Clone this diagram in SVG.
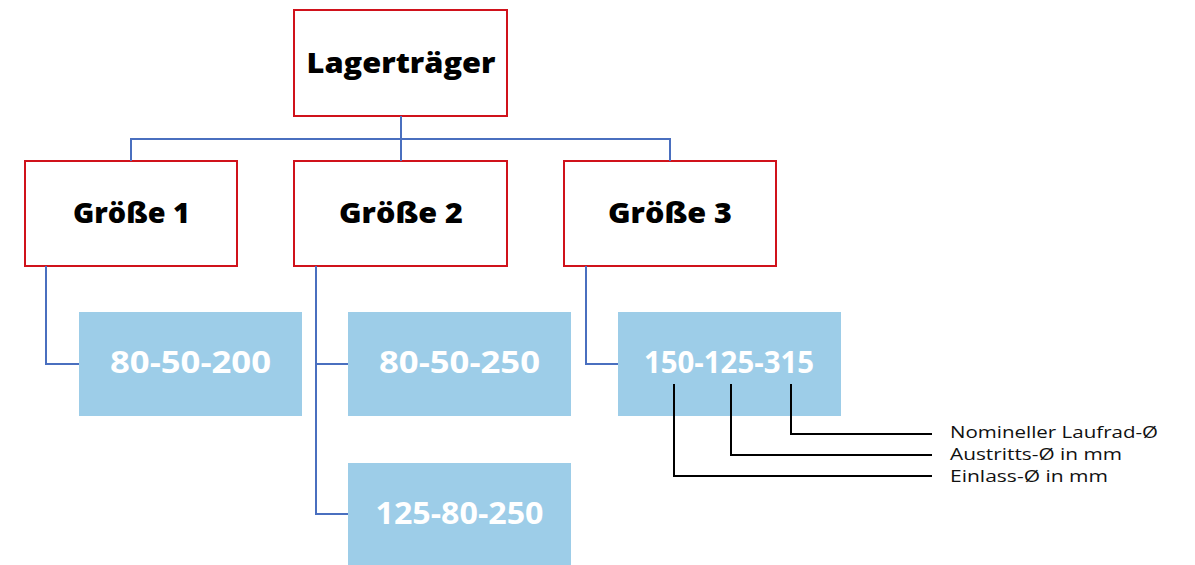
<svg xmlns="http://www.w3.org/2000/svg" width="1195" height="565" viewBox="0 0 1195 565">
<style>
.hdr{fill:#fff;stroke:#D0121B;stroke-width:2}
.hdr-t{font-family:"Open Sans","Liberation Sans",sans-serif;font-weight:800;font-size:28px;fill:#000;text-anchor:middle}
.num{fill:#9DCDE8}
.num-t{font-family:"Open Sans","Liberation Sans",sans-serif;font-weight:bold;font-size:30px;fill:#fff;text-anchor:middle}
.blue{fill:none;stroke:#4A6FBF;stroke-width:2}
.blk{fill:none;stroke:#000;stroke-width:2}
.lbl{font-family:"Open Sans","Liberation Sans",sans-serif;font-size:17px;fill:#111}
</style>
<rect width="1195" height="565" fill="#fff"/>
<g id="lagertraeger">
<rect class="hdr" x="294" y="10" width="213" height="106"/>
<text class="hdr-t" x="401" y="73" textLength="189" lengthAdjust="spacingAndGlyphs">Lagerträger</text>
</g>
<g id="groesse1">
<rect class="hdr" x="25" y="161" width="212" height="105"/>
<text class="hdr-t" x="131.5" y="223" textLength="117" lengthAdjust="spacingAndGlyphs">Größe 1</text>
</g>
<g id="groesse2">
<rect class="hdr" x="294" y="161" width="213" height="105"/>
<text class="hdr-t" x="401" y="223" textLength="124" lengthAdjust="spacingAndGlyphs">Größe 2</text>
</g>
<g id="groesse3">
<rect class="hdr" x="564" y="161" width="212" height="105"/>
<text class="hdr-t" x="670" y="223" textLength="124" lengthAdjust="spacingAndGlyphs">Größe 3</text>
</g>
<g id="n80-50-200">
<rect class="num" x="79" y="312" width="223" height="104"/>
<text class="num-t" x="190.5" y="373" textLength="161" lengthAdjust="spacingAndGlyphs">80-50-200</text>
</g>
<g id="n80-50-250">
<rect class="num" x="348" y="312" width="223" height="104"/>
<text class="num-t" x="459.5" y="373" textLength="161" lengthAdjust="spacingAndGlyphs">80-50-250</text>
</g>
<g id="n125-80-250">
<rect class="num" x="348" y="463" width="223" height="102"/>
<text class="num-t" x="459.5" y="524" textLength="168" lengthAdjust="spacingAndGlyphs">125-80-250</text>
</g>
<g id="n150-125-315">
<rect class="num" x="618" y="312" width="223" height="104"/>
<text class="num-t" x="729" y="373" textLength="170" lengthAdjust="spacingAndGlyphs">150-125-315</text>
</g>
<g id="labels">
<text class="lbl" x="950" y="438" textLength="208" lengthAdjust="spacingAndGlyphs">Nomineller Laufrad-Ø</text>
<text class="lbl" x="950" y="460" textLength="172" lengthAdjust="spacingAndGlyphs">Austritts-Ø in mm</text>
<text class="lbl" x="950" y="482" textLength="158" lengthAdjust="spacingAndGlyphs">Einlass-Ø in mm</text>
</g>
<g id="connectors">
<path class="blue" d="M401 116V161M131 161V139H670V161"/>
<path class="blue" d="M46 266V364H79"/>
<path class="blue" d="M316 266V514H348M316 364H348"/>
<path class="blue" d="M586 266V364H618"/>
<path class="blk" d="M791 384V434H932M731 384V455H932M674 384V476H932"/>
</g>
</svg>
